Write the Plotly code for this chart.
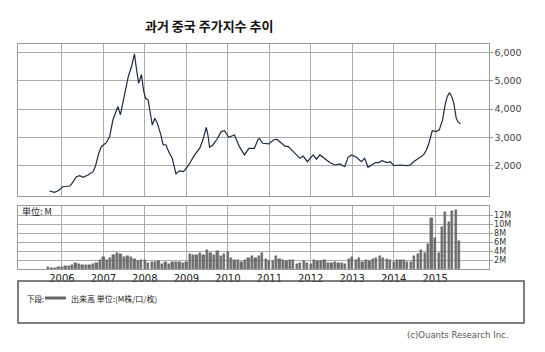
import plotly.graph_objects as go
import pandas as pd

W, H = 545, 352

# ---------------- data ----------------
price_t = [2005.70, 2005.82, 2005.91, 2006.02, 2006.19, 2006.23, 2006.35, 2006.43, 2006.51, 2006.63,
           2006.75, 2006.81, 2006.89, 2006.95, 2007.07, 2007.15, 2007.23, 2007.31, 2007.35, 2007.41,
           2007.47, 2007.60, 2007.68, 2007.75, 2007.80, 2007.85, 2007.92, 2007.97, 2008.02, 2008.08,
           2008.12, 2008.18, 2008.24, 2008.30, 2008.38, 2008.44, 2008.51, 2008.59, 2008.66, 2008.75,
           2008.83, 2008.93, 2009.04, 2009.20, 2009.32, 2009.40, 2009.48, 2009.52, 2009.56, 2009.64,
           2009.74, 2009.84, 2009.92, 2010.02, 2010.16, 2010.28, 2010.40, 2010.51, 2010.64, 2010.73,
           2010.76, 2010.84, 2010.99, 2011.10, 2011.18, 2011.26, 2011.38, 2011.46, 2011.54, 2011.64,
           2011.74, 2011.82, 2011.92, 2012.06, 2012.14, 2012.22, 2012.34, 2012.46, 2012.58, 2012.70,
           2012.82, 2012.90, 2012.98, 2013.10, 2013.22, 2013.30, 2013.38, 2013.46, 2013.56, 2013.64,
           2013.72, 2013.84, 2013.92, 2014.00, 2014.16, 2014.32, 2014.40, 2014.48, 2014.60, 2014.72,
           2014.79, 2014.85, 2014.93, 2015.02, 2015.10, 2015.18, 2015.24, 2015.29, 2015.35, 2015.40,
           2015.45, 2015.51, 2015.55, 2015.61]
price_v = [1120, 1075, 1130, 1270, 1295, 1365, 1625, 1660, 1600, 1680,
           1800, 2000, 2450, 2680, 2820, 3030, 3620, 3910, 4090, 3800,
           4210, 5140, 5500, 5940, 5400, 4910, 5220, 4650, 4380, 4320,
           3970, 3440, 3680, 3500, 3130, 2750, 2740, 2450, 2270, 1720,
           1830, 1800, 2000, 2390, 2620, 2920, 3360, 3090, 2660, 2740,
           2940, 3210, 3240, 3010, 3090, 2680, 2390, 2620, 2620, 2940,
           2975, 2800, 2775, 2915, 2940, 2855, 2700, 2680, 2560, 2390,
           2270, 2350, 2150, 2390, 2240, 2390, 2270, 2120, 2035, 2070,
           1975, 2305, 2390, 2305, 2150, 2270, 1955, 2035, 2120, 2120,
           2190, 2120, 2150, 2010, 2035, 2010, 2035, 2150, 2270, 2390,
           2560, 2800, 3240, 3210, 3270, 3620, 4150, 4440, 4580, 4440,
           4210, 3680, 3560, 3480]

vol_start = "2005-09-01"
volume_m = [0.4, 0.3, 0.3, 0.4,
            0.5, 0.6, 0.7, 0.9, 1.4, 1.2, 1.0, 0.9, 1.0, 1.1, 1.4, 2.0,
            2.6, 2.0, 2.4, 3.2, 3.5, 3.4, 2.6, 3.0, 2.6, 2.2, 1.7, 1.9,
            2.0, 1.3, 1.6, 1.5, 1.7, 1.1, 1.5, 1.2, 1.6, 1.6, 1.6, 1.4,
            1.6, 3.3, 3.1, 3.1, 3.5, 3.1, 4.2, 3.5, 3.2, 3.9, 2.9, 3.3,
            3.7, 2.4, 2.1, 2.1, 1.6, 2.1, 2.4, 2.8, 2.4, 3.0, 3.5, 2.2,
            1.8, 1.8, 2.9, 2.2, 2.0, 1.8, 2.0, 1.9, 1.1, 1.3, 1.7, 1.3,
            1.1, 1.9, 1.8, 1.7, 2.0, 1.4, 1.4, 1.5, 1.3, 1.4, 1.1, 2.2,
            2.6, 2.0, 2.4, 1.6, 2.1, 1.7, 2.3, 2.5, 2.9, 2.5, 2.3, 2.1,
            1.6, 2.0, 2.1, 2.0, 1.6, 1.5, 2.9, 3.3, 4.2, 3.6, 5.6, 11.3,
            7.0, 3.6, 9.4, 12.7, 10.5, 12.9, 13.1, 6.3]

year_ticks = ["2006-01-01", "2007-01-01", "2008-01-01", "2009-01-01", "2010-01-01",
              "2011-01-01", "2012-01-01", "2013-01-01", "2014-01-01", "2015-01-01"]
year_labels = ["2006", "2007", "2008", "2009", "2010", "2011", "2012", "2013", "2014", "2015"]
price_ticks = [2000, 3000, 4000, 5000, 6000]
price_tick_text = ["2,000", "3,000", "4,000", "5,000", "6,000"]
vol_ticks = [2, 4, 6, 8, 10, 12]
vol_tick_text = ["2M", "4M", "6M", "8M", "10M", "12M"]

title_text = "과거 중국 주가지수 추이"
unit_text = "単位: M"
legend_prefix = "下段:"
legend_text = "出来高 単位:(M株/口/枚)"
copyright_text = "(c)Ouants Research Inc."

# ---------------- helpers ----------------
def dec_to_date(d):
    y = int(d)
    start = pd.Timestamp(year=y, month=1, day=1)
    end = pd.Timestamp(year=y + 1, month=1, day=1)
    return start + (end - start) * (d - y)

price_x = [dec_to_date(d) for d in price_t]
vol_x = pd.date_range(vol_start, periods=len(volume_m), freq="MS")

def px(x):
    return x / W

def py(y):
    return 1 - y / H

x_dom = [px(18), px(488.5)]
x_range = ["2004-12-10", "2016-04-15"]

fig = go.Figure()
fig.add_trace(go.Scatter(x=price_x, y=price_v, mode="lines",
                         line=dict(color="#1c2a44", width=1.2),
                         xaxis="x", yaxis="y", hoverinfo="skip"))
fig.add_trace(go.Bar(x=vol_x, y=volume_m, marker=dict(color="#707070", line=dict(color="#555555", width=0.4)),
                     xaxis="x2", yaxis="y2", width=1000 * 3600 * 24 * 20, hoverinfo="skip"))

grid = "#ababab"
axis_common = dict(showline=True, linecolor="#9a9a9a", linewidth=1, mirror=True,
                   showgrid=True, gridcolor=grid, gridwidth=1, zeroline=False)

fig.update_layout(
    width=W, height=H,
    margin=dict(l=0, r=0, t=0, b=0),
    paper_bgcolor="white", plot_bgcolor="white",
    showlegend=False,
    bargap=0,
    font=dict(family="DejaVu Sans, Noto Sans CJK JP", color="#333333"),
    xaxis=dict(domain=x_dom, range=x_range, type="date", anchor="y",
               tickvals=year_ticks, ticktext=year_labels, showticklabels=False, ticks="", **axis_common),
    yaxis=dict(domain=[py(196), py(44)], range=[944, 6292], side="right", anchor="x",
               tickvals=price_ticks, ticktext=price_tick_text, ticks="outside", ticklen=3,
               tickcolor="#9a9a9a", tickfont=dict(size=9.5, color="#444444"), **axis_common),
    xaxis2=dict(domain=x_dom, range=x_range, type="date", anchor="y2",
                tickvals=year_ticks, ticktext=year_labels, ticks="",
                tickfont=dict(size=10, color="#222222"), **axis_common),
    yaxis2=dict(domain=[py(269), py(206)], range=[0, 14], side="right", anchor="x2",
                tickvals=vol_ticks, ticktext=vol_tick_text, ticks="outside", ticklen=3,
                tickcolor="#9a9a9a", tickfont=dict(size=8, color="#333333"), **axis_common),
)

# title
fig.add_annotation(text="<b>" + title_text + "</b>", x=px(209), y=py(26), xref="paper", yref="paper",
                   showarrow=False, xanchor="center", yanchor="middle",
                   font=dict(size=13, family="Noto Sans CJK KR", color="#111111"))
# unit label
fig.add_annotation(text=unit_text, x=px(20), y=py(211), xref="paper", yref="paper",
                   showarrow=False, xanchor="left", yanchor="middle",
                   font=dict(size=9, family="Noto Sans CJK JP", color="#222222"))
# legend box
fig.add_shape(type="rect", xref="paper", yref="paper", x0=px(18), x1=px(524), y0=py(323), y1=py(281),
              line=dict(color="#555555", width=1.5), fillcolor="rgba(0,0,0,0)")
fig.add_shape(type="line", xref="paper", yref="paper", x0=px(45), x1=px(66), y0=py(298), y1=py(298),
              line=dict(color="#666666", width=3))
fig.add_annotation(text=legend_prefix, x=px(25), y=py(298), xref="paper", yref="paper",
                   showarrow=False, xanchor="left", yanchor="middle",
                   font=dict(size=7.5, family="Noto Sans CJK JP", color="#222222"))
fig.add_annotation(text=legend_text, x=px(69), y=py(298), xref="paper", yref="paper",
                   showarrow=False, xanchor="left", yanchor="middle",
                   font=dict(size=8, family="Noto Sans CJK JP", color="#222222"))
fig.add_annotation(text=copyright_text, x=px(510), y=py(335), xref="paper", yref="paper",
                   showarrow=False, xanchor="right", yanchor="middle",
                   font=dict(size=8.5, family="DejaVu Sans", color="#555555"))

fig.write_html("out.html")
